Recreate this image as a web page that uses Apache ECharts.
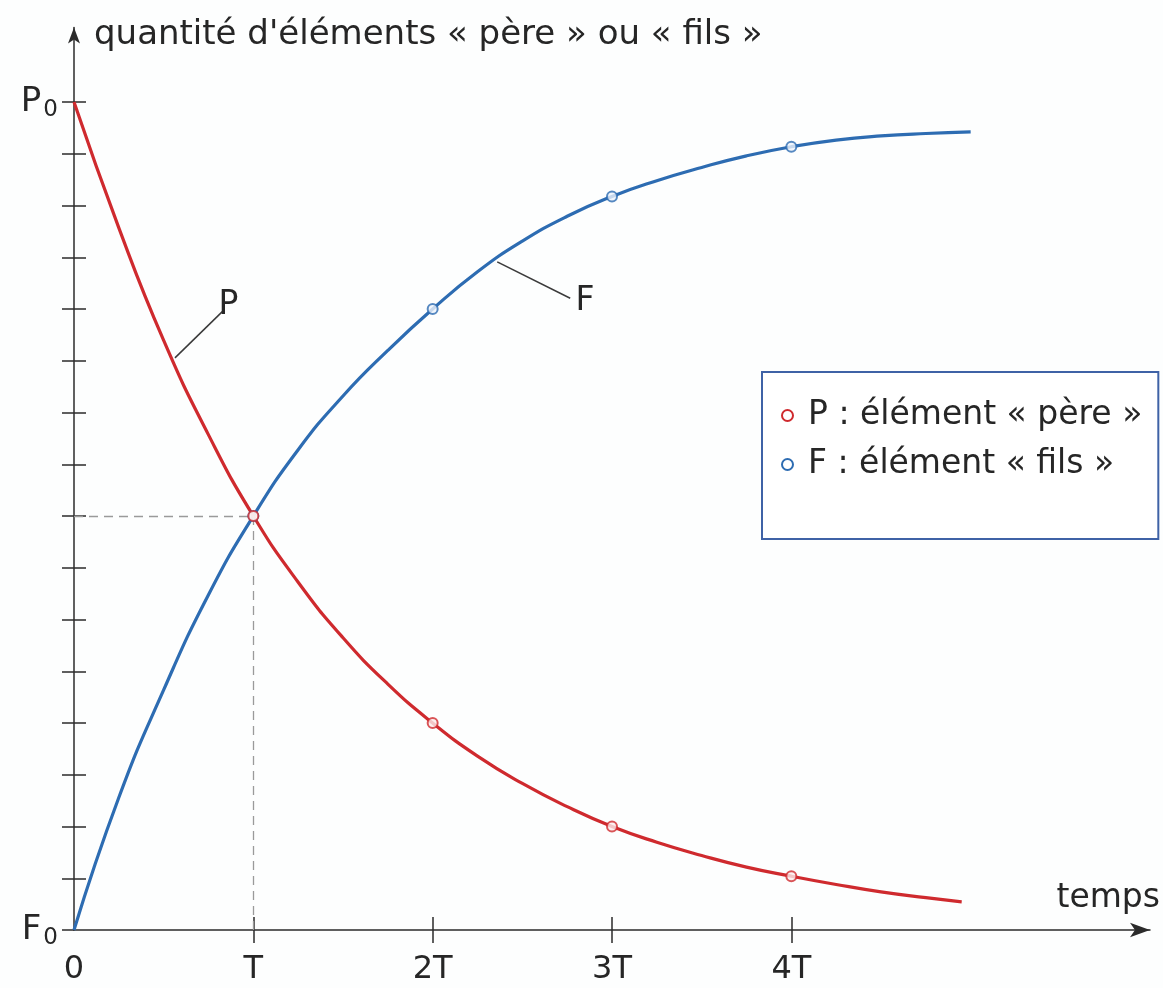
<!DOCTYPE html>
<html>
<head>
<meta charset="utf-8">
<script src="https://cdn.jsdelivr.net/npm/echarts@6/dist/echarts.min.js"></script>
<style>
  html, body { margin: 0; padding: 0; background: #fdfefe; }
  #chart { width: 1163px; height: 988px; }
</style>
</head>
<body>
<div id="chart"></div>
<script>
// données (temps en multiples de T, quantité en fraction de P0)
const pereTimes = [0, 0.25, 0.5, 0.75, 1, 1.25, 1.5, 1.75, 2, 2.25, 2.5, 2.75, 3, 3.25, 3.5, 3.75, 4, 4.25, 4.5, 4.75, 4.95];
const pereValues = [1, 0.848, 0.712, 0.598, 0.5, 0.42, 0.353, 0.297, 0.25, 0.21, 0.177, 0.149, 0.125, 0.106, 0.09, 0.076, 0.065, 0.055, 0.046, 0.039, 0.034];
const filsTimes = [0, 0.25, 0.5, 0.75, 1, 1.25, 1.5, 1.75, 2, 2.25, 2.5, 2.75, 3, 3.25, 3.5, 3.75, 4, 4.25, 4.5, 4.75, 5];
const filsValues = [0, 0.16, 0.29, 0.405, 0.5, 0.58, 0.645, 0.7, 0.75, 0.795, 0.832, 0.862, 0.886, 0.905, 0.921, 0.935, 0.946, 0.954, 0.959, 0.962, 0.964];
const markerTimes = [1, 2, 3, 4];
const xTickLabels = ['0', 'T', '2T', '3T', '4T'];
const seriesNames = ['P : élément « père »', 'F : élément « fils »'];

const RED = '#cf2a2e';
const BLUE = '#2d6cb2';
const AXIS = '#2b2b2b';
const TEXT = '#262626';
const FONT = 'DejaVu Sans';

const xLabelValues = xTickLabels.map((_, i) => i);
const yTickValues = Array.from({ length: 17 }, (_, i) => i / 16);

const perePoints = pereTimes.map((t, i) => [t, pereValues[i]]);
const filsPoints = filsTimes.map((t, i) => [t, filsValues[i]]);
const pereMarkers = markerTimes.map(t => [t, pereValues[pereTimes.indexOf(t)]]);
const filsMarkers = markerTimes.map(t => [t, filsValues[filsTimes.indexOf(t)]]);

const chart = echarts.init(document.getElementById('chart'));

const tickStyle = { color: AXIS, width: 1.5 };

chart.setOption({
  animation: false,
  backgroundColor: '#fdfefe',
  textStyle: { fontFamily: FONT, color: TEXT },
  grid: { left: 74, top: 27.5, width: 1076, height: 902.5 },
  legend: {
    orient: 'vertical',
    left: 762,
    top: 372,
    padding: [27, 16, 58, 19],
    itemGap: 16,
    itemWidth: 11,
    itemHeight: 11,
    backgroundColor: '#ffffff',
    borderColor: '#3f62a6',
    borderWidth: 2,
    borderRadius: 0,
    textStyle: { fontFamily: FONT, fontSize: 33, lineHeight: 33, color: TEXT, padding: [0, 0, 0, 10] },
    data: [
      { name: seriesNames[0], icon: 'circle', itemStyle: { color: '#fff', borderColor: RED, borderWidth: 2 } },
      { name: seriesNames[1], icon: 'circle', itemStyle: { color: '#fff', borderColor: BLUE, borderWidth: 2 } }
    ]
  },
  xAxis: [{
    type: 'value',
    min: 0,
    max: 6,
    position: 'bottom',
    splitLine: { show: false },
    axisLine: { show: true, onZero: false, symbol: ['none', 'arrow'], symbolSize: [11, 20], lineStyle: { color: AXIS, width: 1.5 } },
    axisTick: { show: true, length: 13, customValues: markerTimes, lineStyle: tickStyle },
    axisLabel: {
      show: true,
      customValues: xLabelValues,
      formatter: v => xTickLabels[Math.round(v)],
      fontSize: 32,
      color: TEXT,
      margin: 24
    },
    name: 'temps',
    nameLocation: 'end',
    nameGap: 10,
    nameTextStyle: { fontSize: 33, color: TEXT, align: 'right', verticalAlign: 'bottom', padding: [0, 0, 15, 0] }
  }, {
    type: 'value',
    min: 0,
    max: 6,
    position: 'bottom',
    splitLine: { show: false },
    axisLine: { show: false },
    axisTick: { show: true, inside: true, length: 13, customValues: markerTimes, lineStyle: tickStyle },
    axisLabel: { show: false }
  }],
  yAxis: [{
    type: 'value',
    min: 0,
    max: 1.09,
    position: 'left',
    splitLine: { show: false },
    axisLine: { show: true, onZero: false, symbol: ['none', 'arrow'], symbolSize: [9, 16], lineStyle: { color: AXIS, width: 1.5 } },
    axisTick: { show: true, length: 12, customValues: yTickValues, lineStyle: tickStyle },
    axisLabel: {
      show: true,
      customValues: [0, 1],
      margin: 16,
      formatter: v => v === 0 ? '{b|F}{s|0}' : '{b|P}{s|0}',
      rich: {
        b: { fontSize: 34, color: TEXT, fontFamily: FONT },
        s: { fontSize: 23, color: TEXT, fontFamily: FONT, padding: [16, 0, 0, 2] }
      }
    },
    name: 'quantité d\'éléments « père » ou « fils »',
    nameLocation: 'end',
    nameGap: -8,
    nameTextStyle: { fontSize: 34, color: TEXT, align: 'left', verticalAlign: 'middle', padding: [0, 0, 0, 20] }
  }, {
    type: 'value',
    min: 0,
    max: 1.09,
    position: 'left',
    splitLine: { show: false },
    axisLine: { show: false },
    axisTick: { show: true, inside: true, length: 12, customValues: yTickValues.slice(1), lineStyle: tickStyle },
    axisLabel: { show: false }
  }],
  series: [
    {
      name: seriesNames[1],
      type: 'line',
      smooth: 0.5,
      showSymbol: false,
      data: filsPoints,
      lineStyle: { color: BLUE, width: 3.2 },
      itemStyle: { color: BLUE },
      z: 3,
      markLine: {
        silent: true,
        symbol: ['none', 'none'],
        animation: false,
        data: [
          [{ coord: [0, 0.5], lineStyle: { color: '#9a9a9a', width: 1.3, type: [9, 6] }, label: { show: false } }, { coord: [1, 0.5] }],
          [{ coord: [1, 0.5], lineStyle: { color: '#9a9a9a', width: 1.3, type: [9, 6] }, label: { show: false } }, { coord: [1, 0] }],
          [{ coord: [2.36, 0.807], lineStyle: { color: '#3a3a3a', width: 1.5, type: 'solid' },
             label: { show: true, position: 'end', formatter: 'F', fontSize: 33, color: TEXT, fontFamily: FONT, distance: 6 } },
           { coord: [2.767, 0.763] }]
        ]
      }
    },
    {
      name: seriesNames[0],
      type: 'line',
      smooth: 0.5,
      showSymbol: false,
      data: perePoints,
      lineStyle: { color: RED, width: 3.2 },
      itemStyle: { color: RED },
      z: 4,
      markLine: {
        silent: true,
        symbol: ['none', 'none'],
        animation: false,
        data: [
          [{ coord: [0.563, 0.691], lineStyle: { color: '#3a3a3a', width: 1.5, type: 'solid' },
             label: { show: true, position: 'end', formatter: 'P', fontSize: 33, color: TEXT, fontFamily: FONT, distance: 6 } },
           { coord: [0.837, 0.749] }]
        ]
      }
    },
    {
      name: seriesNames[1],
      type: 'scatter',
      data: filsMarkers,
      symbol: 'circle',
      symbolSize: 10,
      itemStyle: { color: '#eef4fb', borderColor: BLUE, borderWidth: 2 },
      z: 5
    },
    {
      name: seriesNames[0],
      type: 'scatter',
      data: pereMarkers,
      symbol: 'circle',
      symbolSize: 10,
      itemStyle: { color: '#fbeeee', borderColor: RED, borderWidth: 2 },
      z: 6
    }
  ]
});
</script>
</body>
</html>
